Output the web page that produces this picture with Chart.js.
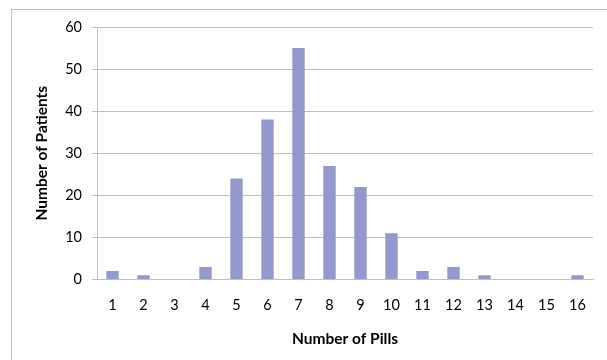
<!DOCTYPE html>
<html>
<head>
<meta charset="utf-8">
<script src="https://cdn.jsdelivr.net/npm/chart.js@4"></script>
<style>
html,body{margin:0;padding:0;background:#fff;}
#wrap{position:relative;width:607px;height:360px;overflow:hidden;}
#frame{position:absolute;left:11px;top:9px;width:700px;height:500px;border:1px solid #b8bfbf;box-sizing:border-box;}
canvas{position:absolute;left:0;top:0;}
</style>
</head>
<body>
<div id="wrap">
<div id="frame"></div>
<canvas id="c" width="607" height="360"></canvas>
</div>
<script>
const categories = ["1","2","3","4","5","6","7","8","9","10","11","12","13","14","15","16"];
const patients = [2,1,0,3,24,38,55,27,22,11,2,3,1,0,0,1];
const yTicks = [0,10,20,30,40,50,60];

const FONT = "Lato, 'Open Sans', sans-serif";
const GRID = "#b7c2c2";

new Chart(document.getElementById('c'), {
  type: 'bar',
  data: {
    labels: categories,
    datasets: [{
      data: patients,
      backgroundColor: '#9399cd',
      borderWidth: 0,
      categoryPercentage: 0.8,
      barPercentage: 0.5
    }]
  },
  options: {
    responsive: false,
    animation: false,
    layout: { padding: { left: 22, right: 14, top: 27, bottom: 12 } },
    plugins: { legend: { display: false }, tooltip: { enabled: false } },
    scales: {
      x: {
        afterFit: (s) => { s.height = 68.5; },
        grid: { display: false, drawTicks: false },
        border: { display: true, color: GRID, width: 1 },
        ticks: { color: '#000', font: { family: FONT, size: 14.5 }, padding: 17, maxRotation: 0 },
        title: { display: true, text: 'Number of Pills', color: '#000', font: { family: FONT, size: 15.5, weight: 'bold' }, padding: { top: 0, bottom: 0 } }
      },
      y: {
        min: 0, max: 60,
        afterBuildTicks: (s) => { s.ticks = yTicks.map(v => ({ value: v })); },
        afterFit: (s) => { s.width = 75; },
        grid: { color: GRID, lineWidth: 1, drawTicks: true, tickLength: 5 },
        border: { display: true, color: GRID, width: 1 },
        ticks: { color: '#000', font: { family: FONT, size: 14.5 }, padding: 10 },
        title: { display: true, text: 'Number of Patients', color: '#000', font: { family: FONT, size: 15.5, weight: 'bold' }, padding: { top: 10.5, bottom: 0 } }
      }
    }
  }
});
</script>
</body>
</html>
